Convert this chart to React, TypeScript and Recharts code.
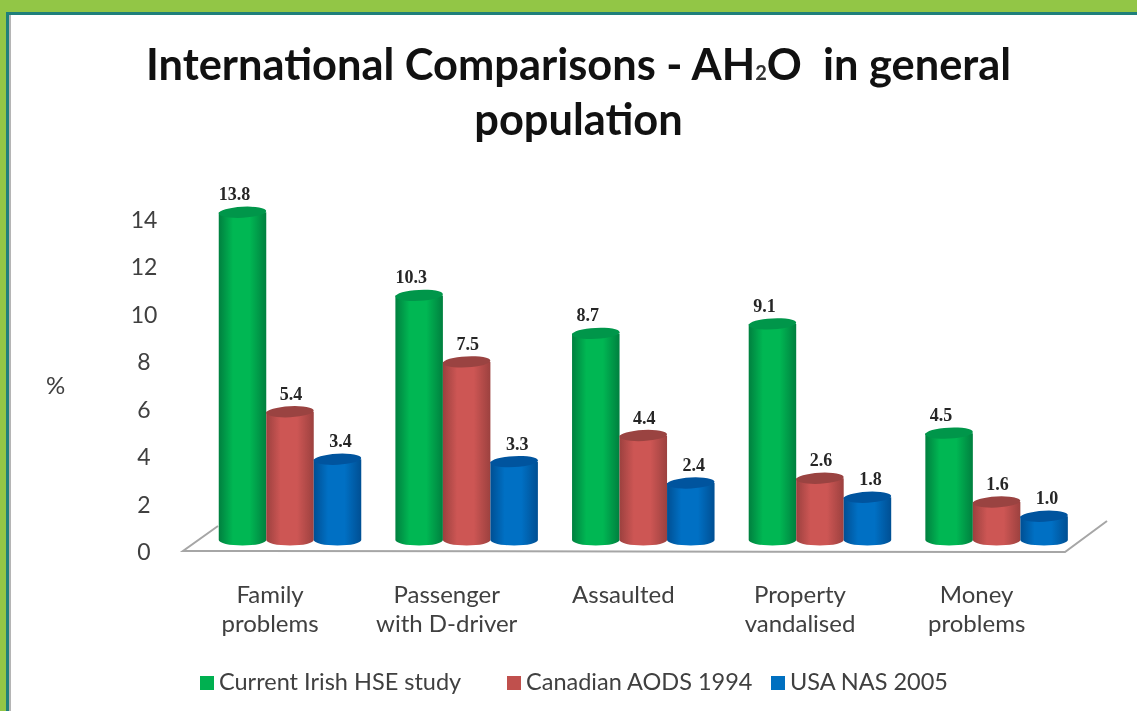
import React from "react";
import { BarChart, Bar, XAxis, YAxis, Legend, LabelList } from "recharts";

const categories = ["Family problems", "Passenger with D-driver", "Assaulted", "Property vandalised", "Money problems"];
const categoryLines = [["Family", "problems"], ["Passenger", "with D-driver"], ["Assaulted"], ["Property", "vandalised"], ["Money", "problems"]];
const irish = [13.8, 10.3, 8.7, 9.1, 4.5];
const canadian = [5.4, 7.5, 4.4, 2.6, 1.6];
const usa = [3.4, 3.3, 2.4, 1.8, 1.0];
const yTicks = [0, 2, 4, 6, 8, 10, 12, 14];
const seriesNames = ["Current Irish HSE study", "Canadian AODS 1994", "USA NAS 2005"];

const data = categories.map((c, i) => ({ c, irish: irish[i], canadian: canadian[i], usa: usa[i] }));

const FONT = "Lato, 'Open Sans', sans-serif";
const palette: Record<string, { g: string; top: string; key: string }> = {
  green: { g: "gGreen", top: "#00964a", key: "#00b050" },
  red: { g: "gRed", top: "#9a4341", key: "#c0504d" },
  blue: { g: "gBlue", top: "#00549e", key: "#0070c0" },
};

const Cylinder = (tone: string) => (p: any) => {
  const { x, y, width, height } = p;
  const c = palette[tone];
  const rx = width / 2;
  const ry = 5.5;
  const bottom = y + height;
  return (
    <g>
      <path d={`M${x},${y} L${x},${bottom} A${rx},${ry} 0 0 0 ${x + width},${bottom} L${x + width},${y} Z`} fill={`url(#${c.g})`} />
      <ellipse cx={x + rx} cy={y} rx={rx} ry={ry} fill={c.top} transform={`rotate(-3 ${x + rx} ${y})`} />
    </g>
  );
};

const YTick = ({ y, payload }: any) => (
  <text x={144} y={y + 11} textAnchor="middle" dominantBaseline="central" fontSize={23} fontFamily={FONT} fill="#404040">{payload.value}</text>
);

const XTick = ({ x, index }: any) => {
  const lines = categoryLines[index] || [];
  return (
    <g>
      {lines.map((l: string, i: number) => (
        <text key={l} x={x - 20} y={593 + i * 29} textAnchor="middle" dominantBaseline="central" fontSize={24} fontFamily={FONT} fill="#404040">{l}</text>
      ))}
    </g>
  );
};

const valueLabel = (dx: number) => (p: any) => (
  <text x={p.x + p.width / 2 + dx} y={p.y - 18} textAnchor="middle" dominantBaseline="central" fontSize={18} fontWeight={700} fontFamily="'Liberation Serif', serif" fill="#262626">{Number(p.value).toFixed(1)}</text>
);

const legendOffsets = [200, 507, 771];
const LegendContent = ({ payload }: any) => (
  <div style={{ position: "relative", height: 30, fontFamily: FONT, fontSize: 23.5, color: "#404040" }}>
    {(payload || []).map((e: any, i: number) => (
      <div key={e.value} style={{ position: "absolute", left: legendOffsets[i], top: 0, whiteSpace: "nowrap", lineHeight: "30px" }}>
        <span style={{ display: "inline-block", width: 14, height: 14, background: e.color, marginRight: 5 }} />
        {e.value}
      </div>
    ))}
  </div>
);

const Grad = ({ id, edge, mid }: { id: string; edge: string; mid: string }) => (
  <linearGradient id={id} x1="0" x2="1" y1="0" y2="0">
    <stop offset="0" stopColor={edge} />
    <stop offset="0.3" stopColor={mid} />
    <stop offset="0.65" stopColor={mid} />
    <stop offset="1" stopColor={edge} />
  </linearGradient>
);

export default function App() {
  return (
    <div style={{ position: "fixed", left: 0, top: 0, width: 1137, height: 711, background: "#fff", overflow: "hidden", filter: "blur(0.6px)" }}>
      <div style={{ position: "absolute", left: 0, top: 0, width: 1137, height: 12, background: "#92c646" }} />
      <div style={{ position: "absolute", left: 0, top: 0, width: 6, height: 711, background: "#92c646" }} />
      <div style={{ position: "absolute", left: 6, top: 12, width: 1131, height: 3, background: "#1f7f7a" }} />
      <div style={{ position: "absolute", left: 6, top: 12, width: 3, height: 699, background: "#1f7f7a" }} />
      <div style={{ position: "absolute", left: 9, top: 15, width: 2, height: 696, background: "#b5b5b5" }} />
      <div style={{ position: "absolute", left: 0, top: 36, width: 1157, textAlign: "center", fontFamily: FONT, fontWeight: 700, fontSize: 43.4, lineHeight: "55px", color: "#111" }}>
        International Comparisons - AH<span style={{ fontSize: 20, color: "#333", lineHeight: 0 }}>2</span>O&nbsp; in general<br />population
      </div>
      <div style={{ position: "absolute", left: 46, top: 370, fontFamily: FONT, fontSize: 24, color: "#404040" }}>%</div>
      <svg width={1137} height={711} style={{ position: "absolute", left: 0, top: 0 }}>
        <polyline points="218,526 183,551 1065,552 1107,521" fill="none" stroke="#a6a6a6" strokeWidth={2} />
      </svg>
      <BarChart
        width={1137}
        height={711}
        data={data}
        barGap={0}
        barSize={47.5}
        barCategoryGap={17}
        margin={{ top: 207.5, right: 52, bottom: 0, left: 0 }}
        style={{ position: "absolute", left: 0, top: 0 }}
      >
        <defs>
          <Grad id="gGreen" edge="#00803f" mid="#00b753" />
          <Grad id="gRed" edge="#9c413f" mid="#cd5654" />
          <Grad id="gBlue" edge="#004f93" mid="#0070c4" />
        </defs>
        <XAxis dataKey="c" height={141} axisLine={false} tickLine={false} tick={<XTick />} interval={0} />
        <YAxis width={201.75} domain={[0, 14]} ticks={yTicks} axisLine={false} tickLine={false} tick={<YTick />} />
        <Legend
          content={<LegendContent />}
          itemSorter={(e: any) => seriesNames.indexOf(e.value)}
          wrapperStyle={{ position: "absolute", left: 0, top: 666, width: 1137, height: 30 }}
        />
        <Bar dataKey="irish" name={seriesNames[0]} fill={palette.green.key} shape={Cylinder("green")} isAnimationActive={false}>
          <LabelList dataKey="irish" content={valueLabel(-8)} />
        </Bar>
        <Bar dataKey="canadian" name={seriesNames[1]} fill={palette.red.key} shape={Cylinder("red")} isAnimationActive={false}>
          <LabelList dataKey="canadian" content={valueLabel(1)} />
        </Bar>
        <Bar dataKey="usa" name={seriesNames[2]} fill={palette.blue.key} shape={Cylinder("blue")} isAnimationActive={false}>
          <LabelList dataKey="usa" content={valueLabel(3)} />
        </Bar>
      </BarChart>
    </div>
  );
}
